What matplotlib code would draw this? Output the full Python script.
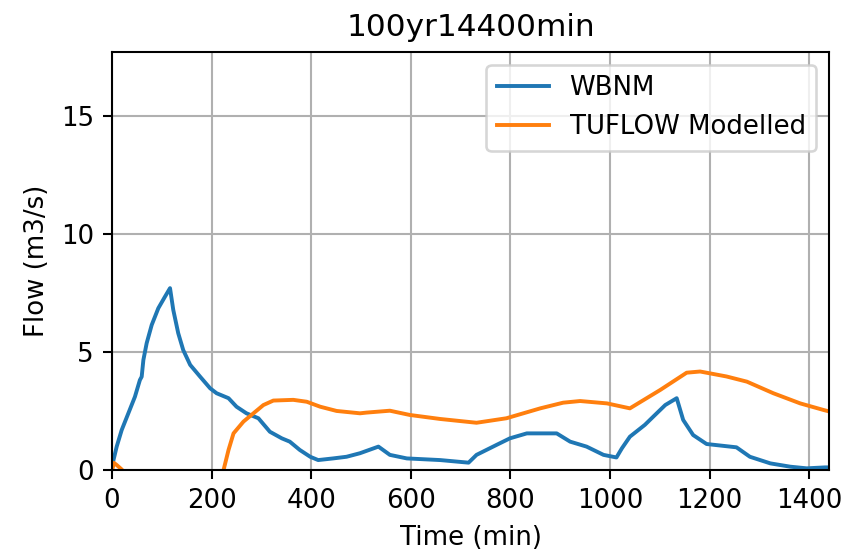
import matplotlib
matplotlib.use("Agg")
import matplotlib.pyplot as plt

nan = float("nan")

# Hydrograph samples (time in min, flow in m3/s)
wbnm_time = [0, 1.4, 9.4, 19.4, 32.8, 46, 56, 59.6, 63, 69.6, 79.7, 93, 106.4,
             116.5, 123, 133, 143, 157, 177, 197, 210, 234, 250, 270, 294, 317,
             341, 357, 377, 398, 414, 444, 471, 498, 535, 558, 592, 659, 716,
             732, 772, 799, 833, 893, 920, 953, 987, 1013, 1024, 1040, 1070,
             1087, 1111, 1134, 1147, 1167, 1194, 1254, 1281, 1322, 1362, 1395,
             1432, 1440]
wbnm_flow = [0.0, 0.28, 0.99, 1.69, 2.4, 3.1, 3.81, 3.95, 4.66, 5.37, 6.14, 6.85,
             7.34, 7.7, 6.78, 5.79, 5.08, 4.45, 3.95, 3.46, 3.25, 3.04, 2.68,
             2.4, 2.19, 1.62, 1.34, 1.2, 0.85, 0.56, 0.42, 0.49, 0.56, 0.71,
             0.99, 0.64, 0.49, 0.42, 0.31, 0.64, 1.06, 1.34, 1.55, 1.55, 1.2,
             0.99, 0.64, 0.53, 0.92, 1.41, 1.91, 2.26, 2.75, 3.04, 2.12, 1.48,
             1.1, 0.96, 0.56, 0.28, 0.14, 0.07, 0.11, 0.11]

# no modelled output between the first few minutes and ~224 min
tuflow_time = [0, 4, 10, 18, 19, 224, 234, 244, 264, 284, 304, 324, 364, 391,
               418, 451, 498, 511, 558, 598, 659, 732, 792, 860, 906, 940, 994,
               1040, 1101, 1154, 1181, 1234, 1275, 1328, 1382, 1429, 1440]
tuflow_flow = [0.0, 0.3, 0.2, 0.05, nan, 0.0, 0.85, 1.55, 2.05, 2.4, 2.75, 2.94,
               2.97, 2.89, 2.68, 2.5, 2.4, 2.43, 2.51, 2.33, 2.16, 2.0, 2.19,
               2.61, 2.85, 2.92, 2.82, 2.61, 3.39, 4.12, 4.17, 3.96, 3.74, 3.25,
               2.82, 2.54, 2.48]

x_ticks = [0, 200, 400, 600, 800, 1000, 1200, 1400]
y_ticks = [0, 5, 10, 15]

dpi = 187
fig = plt.figure(figsize=(846 / dpi, 556 / dpi), dpi=dpi)
ax = fig.add_axes([0.1324, 0.1547, 0.8476, 0.7518])

ax.plot(wbnm_time, wbnm_flow, label="WBNM")
ax.plot(tuflow_time, tuflow_flow, label="TUFLOW Modelled")

ax.set_xlim(0, 1440)
ax.set_ylim(0, 17.7)
ax.set_xticks(x_ticks)
ax.set_yticks(y_ticks)
ax.grid(True)
ax.set_title("100yr14400min")
ax.set_xlabel("Time (min)")
ax.set_ylabel("Flow (m3/s)")
ax.legend(loc="upper right")

fig.savefig("out.png", dpi=dpi)
